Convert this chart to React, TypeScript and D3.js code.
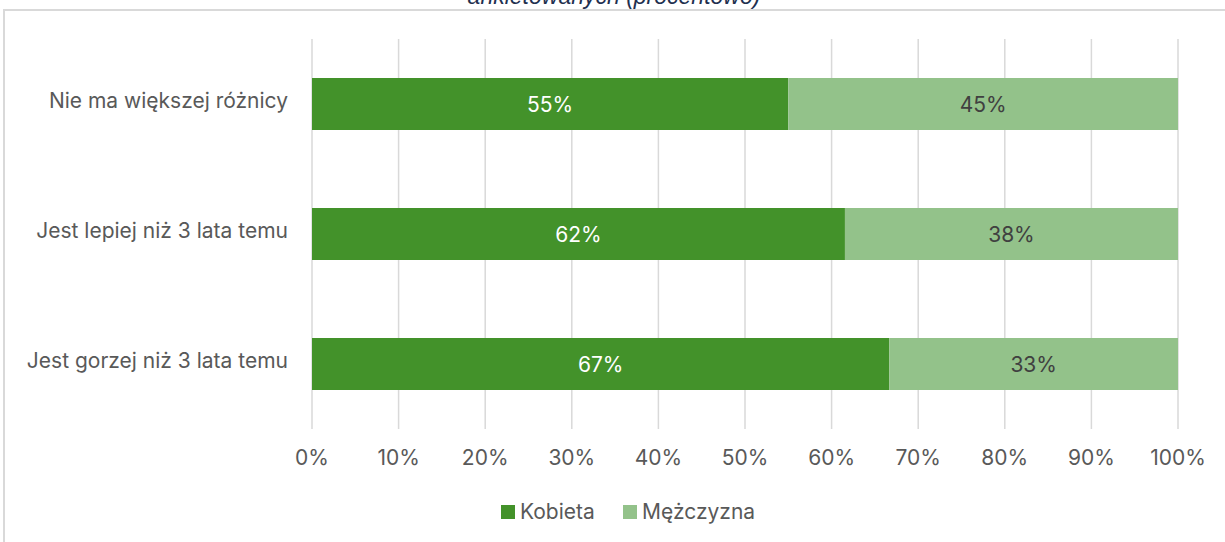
import React from "react";
import * as d3 from "d3";

const categories = ["Nie ma większej różnicy", "Jest lepiej niż 3 lata temu", "Jest gorzej niż 3 lata temu"];
const kobieta = [0.55, 0.6154, 0.6667];
const mezczyzna = [0.45, 0.3846, 0.3333];
const seriesNames = ["Kobieta", "Mężczyzna"];
const xTicks = [0, 0.1, 0.2, 0.3, 0.4, 0.5, 0.6, 0.7, 0.8, 0.9, 1];
const titleText = "ankietowanych (procentowo)";

const W = 1225;
const H = 542;
const FONT = "Inter, sans-serif";
const FS = 21;
const colors = ["#43922A", "#93C28A"];
const labelColors = ["#ffffff", "#404040"];

export default function App() {
  const x = d3.scaleLinear().domain([0, 1]).range([312, 1178]);
  const y = d3.scaleBand<string>().domain(categories).range([39, 429]).paddingInner(0.6).paddingOuter(0.3);
  const fmt = d3.format(".0%");
  const stacked = categories.map((c, i) => {
    const vals = [kobieta[i], mezczyzna[i]];
    let acc = 0;
    return vals.map((v, s) => {
      const seg = { cat: c, s, x0: acc, x1: acc + v, v };
      acc += v;
      return seg;
    });
  });

  return (
    <svg width={W} height={H} style={{ position: "absolute", left: 0, top: 0, background: "#fff" }}>
      <text x={614} y={4} textAnchor="middle" fontFamily="'Liberation Sans', Arial, sans-serif" fontStyle="italic" fontSize={23} fill="#1f3050">
        {titleText}
      </text>
      <rect x={4} y={10} width={W + 20} height={H + 20} fill="none" stroke="#d9d9d9" strokeWidth={2} />
      {xTicks.map((t) => (
        <line key={t} x1={x(t)} x2={x(t)} y1={39} y2={429} stroke="#d9d9d9" strokeWidth={1.5} />
      ))}
      {xTicks.map((t) => (
        <text key={"l" + t} x={x(t)} y={465} textAnchor="middle" fontFamily={FONT} fontSize={FS} fill="#595959">
          {fmt(t)}
        </text>
      ))}
      {categories.map((c) => (
        <text key={c} x={288} y={(y(c) as number) + y.bandwidth() / 2 + 4} textAnchor="end" fontFamily={FONT} fontSize={FS} fill="#595959">
          {c}
        </text>
      ))}
      {stacked.map((segs) =>
        segs.map((sg) => (
          <g key={sg.cat + sg.s}>
            <rect x={x(sg.x0)} y={y(sg.cat)} width={x(sg.x1) - x(sg.x0)} height={y.bandwidth()} fill={colors[sg.s]} />
            <text x={(x(sg.x0) + x(sg.x1)) / 2} y={(y(sg.cat) as number) + y.bandwidth() / 2 + 8} textAnchor="middle" fontFamily={FONT} fontSize={FS} fill={labelColors[sg.s]}>
              {fmt(sg.v)}
            </text>
          </g>
        ))
      )}
      {seriesNames.map((n, i) => {
        const lx = [501, 623][i];
        return (
          <g key={n}>
            <rect x={lx} y={505} width={14} height={14} fill={colors[i]} />
            <text x={lx + 19} y={519} fontFamily={FONT} fontSize={FS} fill="#595959">
              {n}
            </text>
          </g>
        );
      })}
    </svg>
  );
}
